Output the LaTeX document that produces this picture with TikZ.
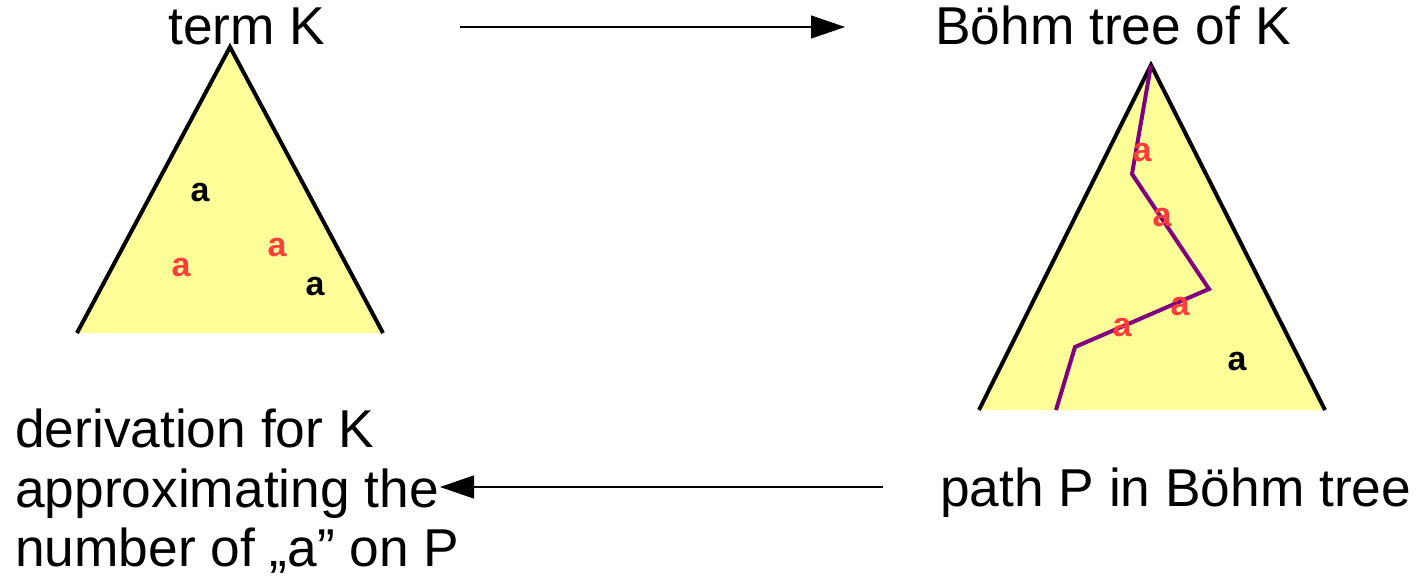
\documentclass[tikz,border=0pt]{standalone}
\usepackage{fontspec}
\setmainfont{Liberation Sans}
\usetikzlibrary{arrows.meta}
\definecolor{treefill}{HTML}{FFFF99}
\definecolor{reda}{HTML}{FF3B3B}
\definecolor{pathpurple}{HTML}{800080}
\tikzset{
  bigtext/.style={inner sep=0pt, font=\fontsize{53.3}{59.5}\selectfont},
  letter/.style={inner sep=0pt, font=\fontsize{34}{34}\selectfont\bfseries},
  redletter/.style={letter, text=reda},
  blackletter/.style={letter, text=black},
  treeedge/.style={line width=4pt, black},
  treebody/.style={fill=treefill},
  conn/.style={line width=1.2pt, -{Triangle[length=34pt, width=23pt]}},
  ppath/.style={line width=4pt, pathpurple},
}
\begin{document}
\begin{tikzpicture}[x=1pt,y=-1pt]
\useasboundingbox (0,0) rectangle (1416,577);
% left triangle
\coordinate (LA) at (230,47);
\coordinate (LL) at (77,333);
\coordinate (LR) at (383,333);
\fill[treebody] (LA) -- (LL) -- (LR) -- cycle;
\draw[treeedge] (LL) -- (LA) -- (LR);
\node[blackletter] (l1) at (200,193) {a};
\node[redletter] (l2) at (181,268) {a};
\node[redletter] (l3) at (277,248) {a};
\node[blackletter] (l4) at (315,287) {a};
% right triangle
\coordinate (RA) at (1151,65);
\coordinate (RL) at (979,410);
\coordinate (RR) at (1325,410);
\fill[treebody] (RA) -- (RL) -- (RR) -- cycle;
\draw[treeedge] (RL) -- (RA) -- (RR);
\coordinate (P1) at (1132,174);
\coordinate (P2) at (1209,289);
\coordinate (P3) at (1075,347);
\coordinate (P4) at (1056,410);
\draw[ppath] (RA) -- (P1) -- (P2) -- (P3) -- (P4);
\node[redletter] (r1) at (1142,153) {a};
\node[redletter] (r2) at (1162,218) {a};
\node[redletter] (r3) at (1180,307) {a};
\node[redletter] (r4) at (1122,328) {a};
\node[blackletter] (r5) at (1237,362) {a};
% texts
\node[bigtext, anchor=base] (termK) at (247,45) {term K};
\node[bigtext, anchor=base] (bohmK) at (1113,45) {Böhm tree of K};
\node[bigtext, anchor=base west] (pathP) at (940,506) {path P in Böhm tree};
\node[bigtext, anchor=north west, align=left] (deriv) at (15,409) {derivation for K\\approximating the\\number of „a” on P};
% arrows
\coordinate (t1) at (460,27);
\coordinate (t2) at (845,27);
\coordinate (b1) at (883,487);
\coordinate (b2) at (440,487);
\draw[conn] (t1) -- (t2);
\draw[conn] (b1) -- (b2);
\end{tikzpicture}
\end{document}
